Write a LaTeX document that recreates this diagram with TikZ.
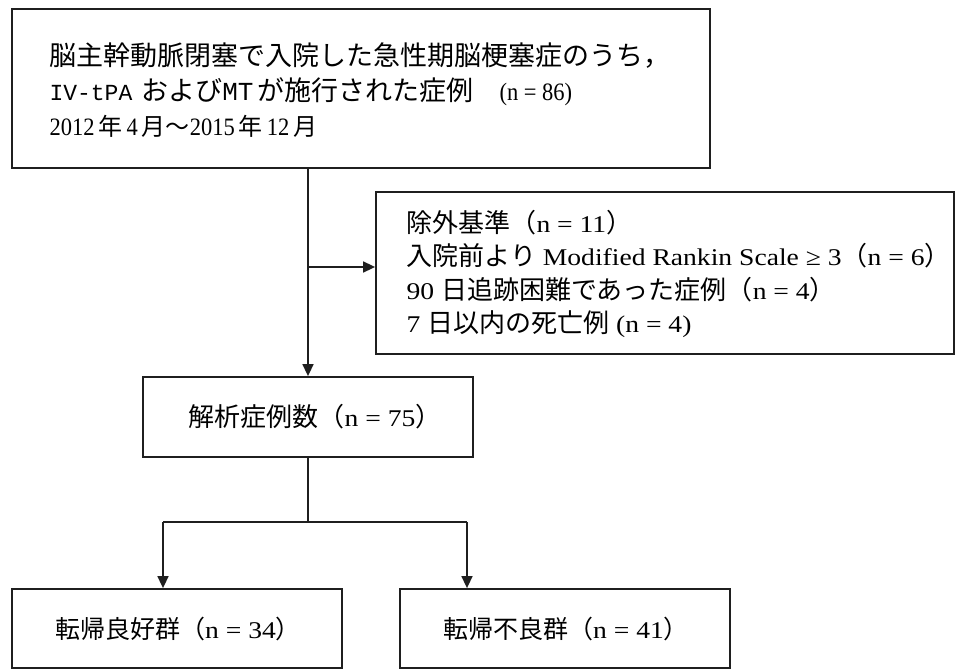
\documentclass[tikz,border=0pt]{standalone}
\usepackage{fontspec}
\setmainfont{Liberation Serif}
\newfontfamily\jp{Noto Sans CJK JP}
\newfontfamily\monof{Liberation Mono}
\newfontfamily\widef[FakeStretch=1.15]{Liberation Serif}
\newfontfamily\tallf[FakeStretch=0.9]{Liberation Serif}
\newcommand{\jA}[1]{{\jp\fontsize{27bp}{35bp}\selectfont #1}}
\newcommand{\jC}[1]{{\jp\fontsize{24bp}{35bp}\selectfont #1}}
\newcommand{\jB}[1]{{\jp\fontsize{26bp}{33.5bp}\selectfont #1}}
\newcommand{\mA}[1]{{\monof\fontsize{23bp}{35bp}\selectfont #1}}
\newcommand{\mB}[1]{{\monof\fontsize{26bp}{35bp}\selectfont #1}}
\usetikzlibrary{arrows.meta}
\begin{document}
\begin{tikzpicture}[x=1bp,y=-1bp,
  box/.style={draw=black!88,line width=1.8bp,inner sep=0pt,fill=white},
  conn/.style={draw=black!88,line width=1.6bp},
  arr/.style={conn,-{Triangle[length=12bp,width=11bp]}},
  toptxt/.style={font=\tallf\fontsize{25bp}{35bp}\selectfont},
  extxt/.style={font=\widef\fontsize{24bp}{33.5bp}\selectfont},
  lowtxt/.style={font=\widef\fontsize{24bp}{30bp}\selectfont}]
\useasboundingbox[fill=white] (0,0) rectangle (957,669);

\node[box,minimum width=698bp,minimum height=159bp] (top) at (361,88.5) {};
\node[toptxt,anchor=west,align=left] (toptext) at (46,90) {\jA{脳主幹動脈閉塞で入院した急性期脳梗塞症のうち，}\\
\mA{IV-tPA}\hspace{9bp}\jA{および}\mB{MT}\hspace{4bp}\jA{が施行された症例}\hspace{26bp}(n = 86)\\
2012\hspace{4bp}\jC{年}\hspace{4bp}4\hspace{4bp}\jC{月～}2015\hspace{4bp}\jC{年}\hspace{4bp}12\hspace{4bp}\jC{月}};

\node[box,minimum width=578bp,minimum height=162bp] (excl) at (665,273) {};
\node[extxt,anchor=west,align=left] (excltext) at (403,274) {\jB{除外基準（}n = 11\jB{）}\\
\jB{入院前より} Modified Rankin Scale ≥ 3\jB{（}n = 6\jB{）}\\
90 \jB{日追跡困難であった症例（}n = 4\jB{）}\\
7 \jB{日以内の死亡例} (n = 4)};

\node[box,minimum width=330bp,minimum height=80bp] (ana) at (308,417) {};
\node[lowtxt] (anatext) at ([xshift=7bp]ana.center) {{\jp\fontsize{26bp}{30bp}\selectfont 解析症例数（}n = 75{\jp\fontsize{26bp}{30bp}\selectfont ）}};

\node[box,minimum width=330bp,minimum height=79bp] (good) at (177,628.5) {};
\node[lowtxt] (goodtext) at ([xshift=1bp]good.center) {{\jp\fontsize{25bp}{30bp}\selectfont 転帰良好群（}n = 34{\jp\fontsize{25bp}{30bp}\selectfont ）}};
\node[box,minimum width=330bp,minimum height=79bp] (bad) at (565,628.5) {};
\node[lowtxt] (badtext) at ([xshift=1bp]bad.center) {{\jp\fontsize{25bp}{30bp}\selectfont 転帰不良群（}n = 41{\jp\fontsize{25bp}{30bp}\selectfont ）}};

\draw[arr] (top.south -| ana.north) -- (ana.north);
\coordinate (br) at (308,267);
\draw[arr] (br) -- (br -| excl.west);

\coordinate (j) at (308,522);
\coordinate (jl) at (163,522);
\coordinate (jr) at (467,522);
\draw[conn] (ana.south) -- (j);
\draw[conn] (jl) -- (jr);
\draw[arr] (jl) -- (jl |- good.north);
\draw[arr] (jr) -- (jr |- bad.north);
\end{tikzpicture}
\end{document}
